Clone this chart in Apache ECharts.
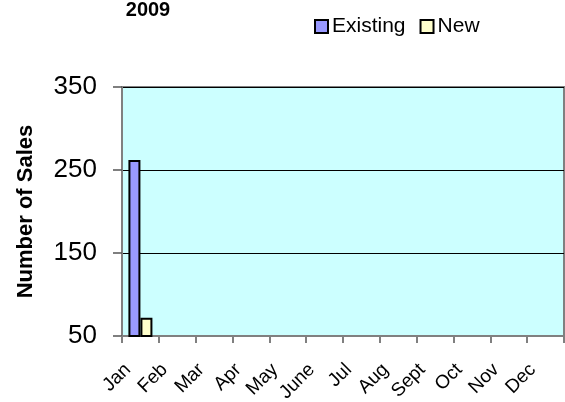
<!DOCTYPE html>
<html><head><meta charset="utf-8">
<script src="https://cdn.jsdelivr.net/npm/echarts@6/dist/echarts.min.js"></script>
<style>html,body{margin:0;padding:0;background:#fff}#c{width:565px;height:402px}</style>
</head><body><div id="c"></div>
<script>
var categories = ['Jan','Feb','Mar','Apr','May','June','Jul','Aug','Sept','Oct','Nov','Dec'];
var existing = [262, null, null, null, null, null, null, null, null, null, null, null];
var newSales = [72, null, null, null, null, null, null, null, null, null, null, null];
var chart = echarts.init(document.getElementById('c'));
var F = 'Arial, "Liberation Sans", sans-serif';
chart.setOption({
  animation: false,
  title: { text: '2009', left: 143, top: -5, textAlign: 'center',
    textStyle: { fontFamily: F, fontSize: 20, fontWeight: 'bold', color: '#000' } },
  legend: { left: 309, top: 11, icon: 'rect', itemWidth: 13, itemHeight: 13, itemGap: 14,
    textStyle: { fontFamily: F, fontSize: 21, color: '#000', padding: [0,0,0,-1] },
    data: ['Existing', 'New'] },
  grid: { left: 122, right: 1, top: 87, bottom: 66, show: true, backgroundColor: '#ccffff',
    borderColor: '#808080', borderWidth: 2, containLabel: false, outerBoundsMode: 'none' },
  xAxis: { type: 'category', data: categories,
    axisLine: { lineStyle: { color: '#808080', width: 2 } },
    axisTick: { show: true, length: 7, lineStyle: { color: '#808080', width: 2 } },
    axisLabel: { rotate: 45, fontFamily: F, fontSize: 19, color: '#000', margin: 18,
      padding: [0, 18, 0, 0] } },
  yAxis: { type: 'value', min: 50, max: 350, interval: 100,
    name: 'Number of Sales', nameLocation: 'middle', nameGap: 85,
    nameTextStyle: { fontFamily: F, fontSize: 22, fontWeight: 'bold', color: '#000' },
    axisLine: { show: true, lineStyle: { color: '#808080', width: 2 } },
    axisTick: { show: true, length: 9, lineStyle: { color: '#555', width: 1.5 } },
    axisLabel: { fontFamily: F, fontSize: 26, color: '#000', margin: 25 },
    splitLine: { show: true, lineStyle: { color: '#000', width: 1 } } },
  series: [
    { name: 'Existing', type: 'bar', data: existing, barWidth: 12, barGap: '0%',
      itemStyle: { color: '#9999ff', borderColor: '#000', borderWidth: 2 } },
    { name: 'New', type: 'bar', data: newSales, barWidth: 12,
      itemStyle: { color: '#ffffcc', borderColor: '#000', borderWidth: 2 } }
  ]
});
</script></body></html>
